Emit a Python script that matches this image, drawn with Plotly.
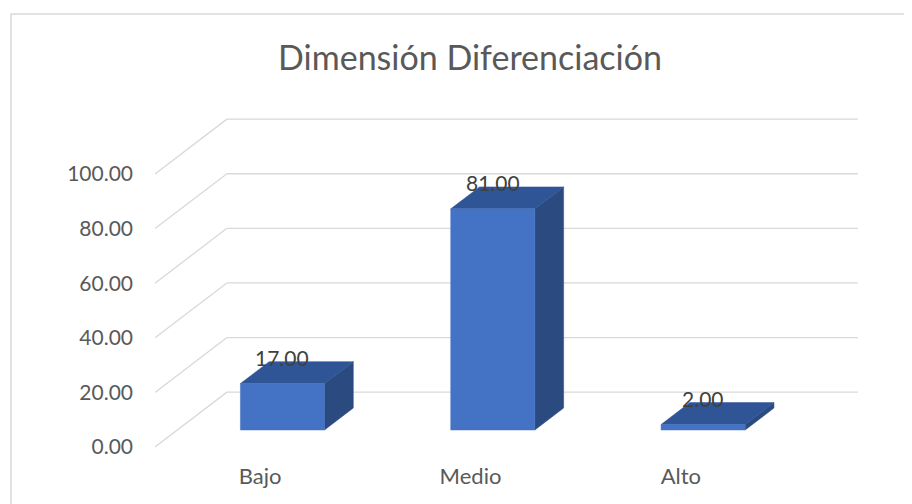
import plotly.graph_objects as go

categories = ["Bajo", "Medio", "Alto"]
values = [17.00, 81.00, 2.00]
y_ticks = [0, 20, 40, 60, 80, 100]
title_text = "Dimensión Diferenciación"

FRONT = "#4472C4"
TOP = "#2F5597"
SIDE = "#2A4A80"
GRID = "#D9D9D9"
TXT = "#595959"
FONT = "Lato"

# pseudo-3D geometry in data units (full depth of the floor)
DEPTH_X = 0.342
DEPTH_Y = 20.1
D0, D1 = 0.31, 0.71      # bar depth span (fraction of floor depth)
BW = 0.4                 # bar width in category units

# page offset (default body margin of the html page)
OFF = 8
W, H = 912 - OFF, 504 - OFF
# plot area in page pixels
L, R, T, B = 150, 870, 110, 455
px_per_cat = 210.33
px_per_unit = 2.73
x_lo = -0.5 + (L - 155) / px_per_cat
x_hi = -0.5 + (R - 155) / px_per_cat
y_lo = (447 - B) / px_per_unit
y_hi = (447 - T) / px_per_unit

fig = go.Figure()

shapes = []
for v in y_ticks:
    shapes.append(dict(type="line", xref="x", yref="y", x0=-0.5, y0=v,
                       x1=-0.5 + DEPTH_X, y1=v + DEPTH_Y,
                       line=dict(color=GRID, width=1.3), layer="below"))
    shapes.append(dict(type="line", xref="x", yref="y", x0=-0.5 + DEPTH_X, y0=v + DEPTH_Y,
                       x1=2.5 + DEPTH_X, y1=v + DEPTH_Y,
                       line=dict(color=GRID, width=1.3), layer="below"))

# chart border
shapes.append(dict(type="rect", xref="paper", yref="paper",
                   x0=(11 - L) / (R - L), x1=(960 - L) / (R - L),
                   y0=(B - 560) / (B - T), y1=(B - 14) / (B - T),
                   line=dict(color=GRID, width=1.5), layer="below"))

dx0, dy0 = D0 * DEPTH_X, D0 * DEPTH_Y
dx1, dy1 = D1 * DEPTH_X, D1 * DEPTH_Y

annotations = []
for i, (c, v) in enumerate(zip(categories, values)):
    xl = i - BW / 2
    xr = i + BW / 2
    fig.add_trace(go.Scatter(
        x=[xr + dx0, xr + dx1, xr + dx1, xr + dx0, xr + dx0],
        y=[dy0, dy1, v + dy1, v + dy0, dy0],
        fill="toself", fillcolor=SIDE, mode="lines",
        line=dict(color=SIDE, width=0.5), hoverinfo="skip", showlegend=False))
    fig.add_trace(go.Scatter(
        x=[xl + dx0, xr + dx0, xr + dx1, xl + dx1, xl + dx0],
        y=[v + dy0, v + dy0, v + dy1, v + dy1, v + dy0],
        fill="toself", fillcolor=TOP, mode="lines",
        line=dict(color=TOP, width=0.5), hoverinfo="skip", showlegend=False))
    fig.add_trace(go.Scatter(
        x=[xl + dx0, xr + dx0, xr + dx0, xl + dx0, xl + dx0],
        y=[dy0, dy0, v + dy0, v + dy0, dy0],
        fill="toself", fillcolor=FRONT, mode="lines",
        line=dict(color=FRONT, width=0.5), name=c, showlegend=False))
    annotations.append(dict(x=i + dx0, y=v + dy1, xref="x", yref="y",
                            text=f"{v:.2f}", showarrow=False, yanchor="middle",
                            yshift=4, font=dict(family=FONT, size=21, color="#404040")))

fig.update_layout(
    width=W, height=H,
    margin=dict(l=L - OFF, r=W - (R - OFF), t=T - OFF, b=H - (B - OFF), pad=0),
    paper_bgcolor="white", plot_bgcolor="white",
    title=dict(text=title_text, x=(470 - OFF) / W, xref="container", xanchor="center",
               y=1 - (58 - OFF) / H, yref="container", yanchor="middle",
               font=dict(family=FONT, size=34, color=TXT)),
    xaxis=dict(range=[x_lo, x_hi], tickvals=[0, 1, 2], ticktext=categories,
               showgrid=False, zeroline=False, showline=False, ticks="",
               ticklabelstandoff=6,
               tickfont=dict(family=FONT, size=22, color=TXT), fixedrange=True),
    yaxis=dict(range=[y_lo, y_hi], tickvals=y_ticks,
               ticktext=[f"{t:.2f}" for t in y_ticks],
               showgrid=False, zeroline=False, showline=False, ticks="",
               ticklabelstandoff=16,
               tickfont=dict(family=FONT, size=21, color=TXT), fixedrange=True),
    shapes=shapes, annotations=annotations,
)

fig.write_html("out.html")
